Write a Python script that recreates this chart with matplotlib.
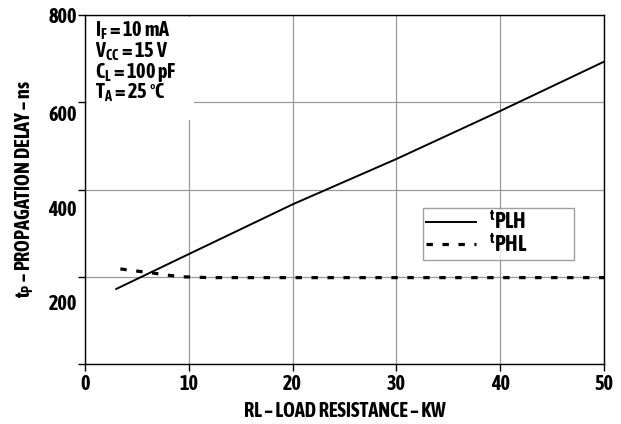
import matplotlib
matplotlib.use('Agg')
import matplotlib.pyplot as plt
from matplotlib.patches import Rectangle

# data
rl_plh = [3, 10, 20, 30, 40, 50]
tplh = [172, 252, 366, 470, 580, 693]
rl_phl = [3.4, 5, 6.4, 7.8, 9.3, 12, 20, 30, 40, 50]
tphl = [218, 213, 209, 204, 200, 198, 198, 198, 198, 198]

xticks = [0, 10, 20, 30, 40, 50]
ygrid = [0, 200, 400, 600, 800]
ylabel_pos = [142, 358, 576, 800]
ylabel_txt = ['200', '400', '600', '800']

fam = ['Asap Condensed', 'DejaVu Sans']
plt.rcParams['font.family'] = fam
plt.rcParams['font.weight'] = 'bold'
plt.rcParams['axes.labelweight'] = 'bold'
plt.rcParams['mathtext.fontset'] = 'custom'
plt.rcParams['mathtext.rm'] = 'Asap Condensed:bold'
plt.rcParams['mathtext.bf'] = 'Asap Condensed:bold'
plt.rcParams['mathtext.it'] = 'Asap Condensed:bold'

fig = plt.figure(figsize=(6.21, 4.24), dpi=100)
ax = fig.add_axes([0.137, 0.1415, 0.8356, 0.8231])

ax.plot(rl_plh, tplh, color='black', lw=1.4, label=r'$\mathregular{^{t}PLH}$', zorder=4)
ax.plot(rl_phl, tphl, color='black', lw=2.3, dashes=(2.0, 3.0),
        label=r'$\mathregular{^{t}PHL}$', zorder=4)

ax.set_xlim(0, 50)
ax.set_ylim(0, 800)
ax.set_xticks(xticks)
ax.set_xticklabels([str(v) for v in xticks], fontsize=14.5)
ax.set_yticks(ygrid)
ax.set_yticklabels([])
ax.yaxis.remove_overlapping_locs = False
ax.set_yticks(ylabel_pos, ylabel_txt, minor=True)
ax.tick_params(axis='y', which='minor', length=0, labelsize=14.5, pad=6)
ax.tick_params(axis='x', which='major', pad=2)
ax.tick_params(which='major', direction='out', length=5, width=1, color='black')
ax.grid(True, which='major', color='#9a9a9a', lw=0.9)
ax.set_axisbelow(True)

for s in ax.spines.values():
    s.set_color('black')
    s.set_linewidth(1.0)

# white box behind the conditions text
ax.add_patch(Rectangle((0.004, 0.70), 0.205, 0.295, transform=ax.transAxes,
                       facecolor='white', edgecolor='none', zorder=2))
cond = [r'I$_\mathregular{F}$ = 10 mA', r'V$_\mathregular{CC}$ = 15 V',
        r'C$_\mathregular{L}$ = 100 pF', r'T$_\mathregular{A}$ = 25 °C']
for i, c in enumerate(cond):
    ax.text(0.019, 0.954 - i * 0.0593, c, transform=ax.transAxes, fontsize=14.5,
            va='center', ha='left', zorder=3)

leg = ax.legend(loc='upper left', bbox_to_anchor=(0.651, 0.309, 0.291, 0.138),
                mode='expand', fontsize=15.5, frameon=True, fancybox=False,
                handlelength=2.3, borderpad=0.15, labelspacing=0.0,
                handletextpad=0.6, borderaxespad=0)
leg.get_frame().set_edgecolor('#888888')
leg.get_frame().set_linewidth(1.0)

ax.set_xlabel('RL – LOAD RESISTANCE – KW', fontsize=14.5, labelpad=5)
ax.set_ylabel(r't$_\mathregular{P}$ – PROPAGATION DELAY – ns', fontsize=14.5, labelpad=9)

fig.savefig('out.png', dpi=100)
